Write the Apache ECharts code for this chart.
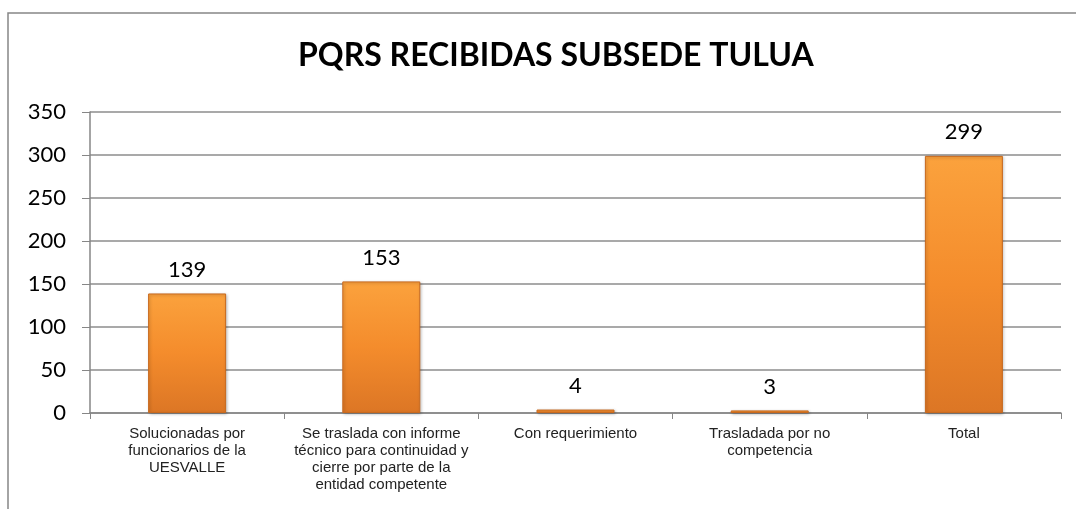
<!DOCTYPE html>
<html>
<head>
<meta charset="utf-8">
<script src="https://cdn.jsdelivr.net/npm/echarts@6/dist/echarts.min.js"></script>
<style>
  html, body { margin: 0; padding: 0; background: #fff; }
  #chart { width: 1076px; height: 509px; }
</style>
</head>
<body>
<div id="chart"></div>
<script>
// datos del grafico
var categorias = [
  'Solucionadas por\nfuncionarios de la\nUESVALLE',
  'Se traslada con informe\ntécnico para continuidad y\ncierre por parte de la\nentidad competente',
  'Con requerimiento',
  'Trasladada por no\ncompetencia',
  'Total'
];
var valores = [139, 153, 4, 3, 299];
var titulo = 'PQRS RECIBIDAS SUBSEDE TULUA';

var chart = echarts.init(document.getElementById('chart'));

var barColor = new echarts.graphic.LinearGradient(0, 0, 0, 1, [
  { offset: 0, color: '#fba23d' },
  { offset: 0.5, color: '#f48c2c' },
  { offset: 1, color: '#dc7625' }
]);

var option = {
  backgroundColor: '#ffffff',
  animation: false,
  title: {
    text: titulo,
    left: 293,
    top: 35,
    textStyle: {
      fontFamily: 'Lato',
      fontWeight: 'bold',
      fontSize: 32,
      color: '#000'
    }
  },
  graphic: [{
    type: 'rect',
    shape: { x: 8, y: 13, width: 1200, height: 600 },
    style: { fill: 'none', stroke: '#868686', lineWidth: 1.5 },
    silent: true
  }],
  grid: {
    left: 90,
    right: 15,
    top: 112,
    bottom: 96
  },
  xAxis: {
    type: 'category',
    data: categorias,
    axisLine: { lineStyle: { color: '#868686', width: 1.5 } },
    axisTick: { show: true, length: 6, alignWithLabel: false, lineStyle: { color: '#868686' } },
    axisLabel: {
      interval: 0,
      margin: 12,
      fontFamily: 'Liberation Sans',
      fontSize: 15,
      lineHeight: 17,
      color: '#222'
    }
  },
  yAxis: {
    type: 'value',
    min: 0,
    max: 350,
    interval: 50,
    axisLine: { show: true, lineStyle: { color: '#868686', width: 1.5 } },
    axisTick: { show: true, length: 8, lineStyle: { color: '#868686' } },
    splitLine: { lineStyle: { color: '#8c8c8c', width: 1.5 } },
    axisLabel: {
      margin: 24,
      fontFamily: 'Lato',
      fontSize: 22,
      color: '#000'
    }
  },
  series: [{
    type: 'bar',
    data: valores,
    barWidth: 78,
    itemStyle: {
      color: barColor,
      borderColor: '#c8691e',
      borderWidth: 1,
      shadowColor: 'rgba(0,0,0,0.25)',
      shadowBlur: 3,
      shadowOffsetX: 1,
      shadowOffsetY: 1
    },
    label: {
      show: true,
      position: 'top',
      distance: 13,
      fontFamily: 'Lato',
      fontSize: 22,
      color: '#000'
    }
  }]
};

chart.setOption(option);
</script>
</body>
</html>
